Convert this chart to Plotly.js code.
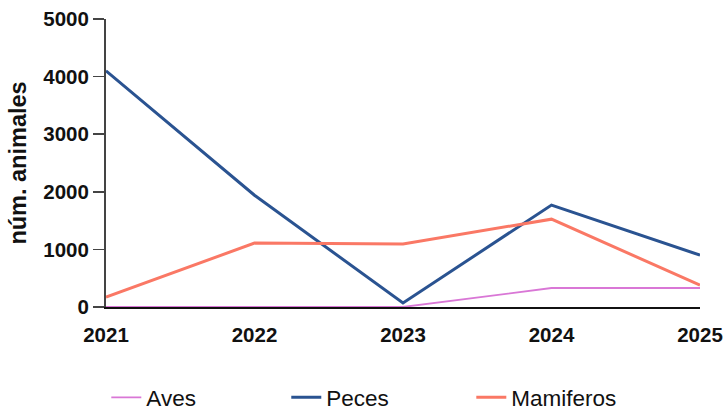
<!DOCTYPE html>
<html><head><meta charset="utf-8">
<script src="https://cdn.plot.ly/plotly-3.0.1.min.js"></script>
<style>html,body{margin:0;padding:0;background:#fff}</style>
</head><body><div id="chart" style="width:726px;height:410px"></div>
<script>
const years = [2021, 2022, 2023, 2024, 2025];
const aves = [0, 0, 0, 330, 330];
const peces = [4100, 1940, 70, 1770, 900];
const mamiferos = [170, 1110, 1095, 1525, 380];
const tickVals = [0, 1000, 2000, 3000, 4000, 5000];

const FONT = 'Liberation Sans, Arial, sans-serif';
const traces = [
  {x: years, y: aves, name: 'Aves', mode: 'lines', legend: 'legend', line: {color: '#d977d6', width: 1.8}},
  {x: years, y: peces, name: 'Peces', mode: 'lines', legend: 'legend2', line: {color: '#2a5391', width: 3}},
  {x: years, y: mamiferos, name: 'Mamiferos', mode: 'lines', legend: 'legend3', line: {color: '#fa7865', width: 3}}
];
function leg(x) {
  return {orientation: 'h', x: x, xanchor: 'left', yref: 'container', y: 0.03, yanchor: 'middle',
    font: {size: 22.5, color: '#111'}, itemwidth: 30, bgcolor: 'rgba(0,0,0,0)'};
}
const layout = {
  width: 726, height: 410,
  margin: {l: 106, r: 26, t: 19, b: 103},
  paper_bgcolor: '#fff', plot_bgcolor: '#fff',
  font: {family: FONT, color: '#111'},
  xaxis: {
    range: [2021, 2025], tickvals: years, ticktext: years.map(String),
    showgrid: false, zeroline: false, showline: true, linecolor: '#111', linewidth: 1.5,
    ticks: '', tickfont: {size: 20.5, family: FONT, weight: 'bold'},
    ticklabelstandoff: 9, automargin: false
  },
  yaxis: {
    range: [0, 5000], tickvals: tickVals, ticktext: tickVals.map(String),
    showgrid: false, zeroline: false, showline: true, linecolor: '#444', linewidth: 2,
    ticks: 'outside', ticklen: 11, tickwidth: 1.5, tickcolor: '#444',
    tickfont: {size: 20.5, family: FONT, weight: 'bold'}, automargin: false,
    title: {text: 'núm. animales', font: {size: 23.5, weight: 'bold'}, standoff: 10}
  },
  showlegend: true,
  legend: leg(0.0005),
  legend2: leg(0.3035),
  legend3: leg(0.6150)
};
Plotly.newPlot('chart', traces, layout, {displayModeBar: false, staticPlot: true});
</script></body></html>
